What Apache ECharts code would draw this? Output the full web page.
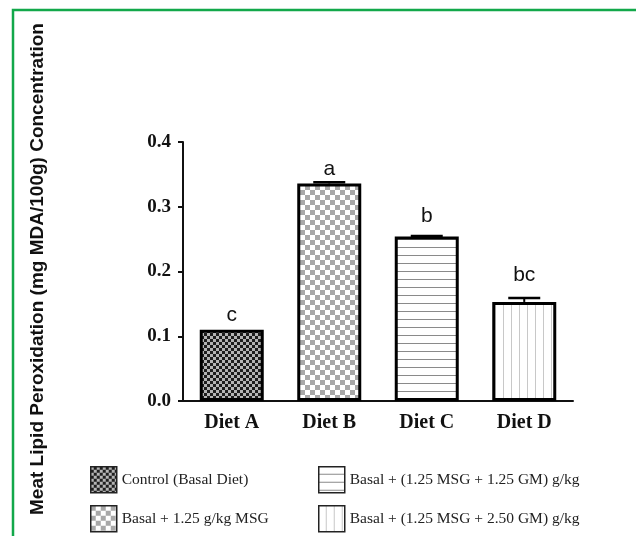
<!DOCTYPE html>
<html><head><meta charset="utf-8">
<script src="https://cdn.jsdelivr.net/npm/echarts@6/dist/echarts.min.js"></script>
<style>html,body{margin:0;padding:0;background:#fff}#c{width:636px;height:536px}</style>
</head><body><div id="c"></div>
<script>
// ---- data ----
const categories = ['Diet A', 'Diet B', 'Diet C', 'Diet D'];
const means = [0.110, 0.336, 0.254, 0.153];
const errUpper = [0.110, 0.338, 0.255, 0.159];
const letters = ['c', 'a', 'b', 'bc'];
const letterPos = [0.117, 0.341, 0.269, 0.178];
const legendNames = ['Control (Basal Diet)', 'Basal + 1.25 g/kg MSG', 'Basal + (1.25 MSG + 1.25 GM) g/kg', 'Basal + (1.25 MSG + 2.50 GM) g/kg'];
const yMin = 0, yMax = 0.4, yStep = 0.1;
const yTitle = 'Meat Lipid Peroxidation (mg MDA/100g) Concentration';

// ---- patterns ----
function makePattern(kind) {
  const c = document.createElement('canvas');
  const s = (kind === 'darkcheck') ? 6 : (kind === 'lightcheck' ? 10 : 8);
  c.width = s; c.height = s;
  const g = c.getContext('2d');
  if (kind === 'darkcheck') {
    g.fillStyle = '#1e1e1e'; g.fillRect(0, 0, 6, 6);
    g.fillStyle = '#b4b4b4'; g.fillRect(0, 0, 3, 3); g.fillRect(3, 3, 3, 3);
  } else if (kind === 'lightcheck') {
    g.fillStyle = '#ffffff'; g.fillRect(0, 0, 10, 10);
    g.fillStyle = '#a8a8a8'; g.fillRect(0, 0, 5, 5); g.fillRect(5, 5, 5, 5);
  } else if (kind === 'hlines') {
    g.fillStyle = '#ffffff'; g.fillRect(0, 0, 8, 8);
    g.fillStyle = '#8a8a8a'; g.fillRect(0, 7, 8, 1);
  } else {
    g.fillStyle = '#ffffff'; g.fillRect(0, 0, 8, 8);
    g.fillStyle = '#c8c8c8'; g.fillRect(7, 0, 1, 8);
  }
  return { image: c, repeat: 'repeat' };
}
const patterns = ['darkcheck', 'lightcheck', 'hlines', 'vlines'].map(makePattern);

const chart = echarts.init(document.getElementById('c'), null, { renderer: 'canvas' });

const barSeries = categories.map((cat, i) => ({
  name: legendNames[i],
  type: 'bar',
  data: categories.map((_, j) => (j === i ? means[i] : '-')),
  barWidth: 64,
  barGap: '-100%',
  itemStyle: { color: patterns[i], borderColor: '#000', borderWidth: 3 },
  z: 2
}));

const errSeries = {
  type: 'custom',
  z: 5,
  data: categories.map((_, i) => [i, means[i], errUpper[i], letterPos[i]]),
  encode: { x: 0, y: 2 },
  renderItem: function (params, api) {
    const i = api.value(0);
    const base = api.coord([i, api.value(1)]);
    const top = api.coord([i, api.value(2)]);
    const lp = api.coord([i, api.value(3)]);
    const half = 16;
    const children = [];
    if (api.value(2) > api.value(1)) {
      children.push({ type: 'line', shape: { x1: top[0], y1: base[1], x2: top[0], y2: top[1] }, style: { stroke: '#000', lineWidth: 2 } });
      children.push({ type: 'line', shape: { x1: top[0] - half, y1: top[1], x2: top[0] + half, y2: top[1] }, style: { stroke: '#000', lineWidth: 2.5 } });
    }
    children.push({ type: 'text', x: lp[0], y: lp[1], style: { text: letters[i], align: 'center', verticalAlign: 'bottom', fontFamily: 'Liberation Sans', fontSize: 21, fill: '#111' } });
    return { type: 'group', children: children };
  }
};

const legendCommon = {
  orient: 'horizontal', icon: 'rect', itemWidth: 26, itemHeight: 26,
  selectedMode: false,
  itemStyle: { borderWidth: 1.5, borderColor: '#222' },
  textStyle: { fontFamily: 'Liberation Serif', fontSize: 15.5, color: '#222', padding: [0, 0, 0, 0] }
};
const legendPos = [[85, 461], [85, 500], [313, 461], [313, 500]];

chart.setOption({
  animation: false,
  backgroundColor: '#fff',
  grid: { left: 183, right: 63, top: 142, bottom: 135, containLabel: false },
  legend: legendNames.map((n, i) => Object.assign({}, legendCommon, { data: [n], left: legendPos[i][0], top: legendPos[i][1] })),
  xAxis: {
    type: 'category', data: categories,
    axisLine: { lineStyle: { color: '#111', width: 2 } },
    axisTick: { alignWithLabel: true, length: 5, lineStyle: { color: '#111', width: 2 } },
    axisLabel: { margin: 12, fontFamily: 'Liberation Serif', fontWeight: 'bold', fontSize: 20, color: '#111' }
  },
  yAxis: {
    type: 'value', min: yMin, max: yMax, interval: yStep,
    splitLine: { show: false },
    axisLine: { show: true, lineStyle: { color: '#111', width: 2 } },
    axisTick: { show: true, length: 5, lineStyle: { color: '#111', width: 2 } },
    axisLabel: { margin: 12, fontFamily: 'Liberation Serif', fontWeight: 'bold', fontSize: 19, color: '#111',
      formatter: v => v.toFixed(1) }
  },
  graphic: [
    { type: 'rect', shape: { x: 13, y: 10, width: 700, height: 600 }, style: { fill: 'none', stroke: '#12a84a', lineWidth: 2.5 }, z: 100 },
    { type: 'text', x: 38, y: 269, rotation: Math.PI / 2,
      style: { text: yTitle, align: 'center', verticalAlign: 'middle', fontFamily: 'Liberation Sans', fontWeight: 'bold', fontSize: 19, fill: '#111' } }
  ],
  series: barSeries.concat([errSeries])
});
</script></body></html>
